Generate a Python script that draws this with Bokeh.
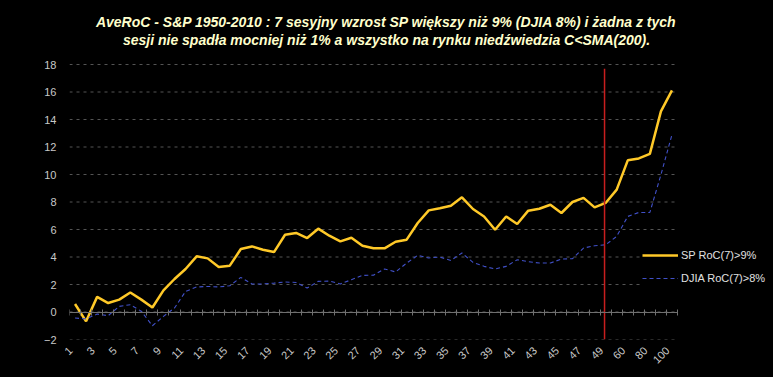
import math
import numpy as np
from bokeh.plotting import figure
from bokeh.models import (Range1d, LinearAxis, FixedTicker, Label, Legend,
                          LegendItem, ColumnDataSource)
from bokeh.embed import file_html
from bokeh.resources import INLINE

# ---- data ----
categories = [str(i) for i in range(1, 51)] + ["60", "70", "80", "90", "100"]
sp_roc = [0.58, -0.68, 1.1, 0.65, 0.9, 1.42, 0.9, 0.33, 1.57, 2.4,
          3.13, 4.05, 3.9, 3.27, 3.37, 4.58, 4.77, 4.53, 4.36, 5.62,
          5.75, 5.38, 6.06, 5.55, 5.14, 5.4, 4.82, 4.63, 4.63, 5.11,
          5.26, 6.47, 7.39, 7.54, 7.73, 8.34, 7.49, 6.95, 5.98, 6.95,
          6.4, 7.37, 7.51, 7.8, 7.2, 8.0, 8.3, 7.61, 7.93, 8.9,
          11.03, 11.17, 11.5, 14.59, 16.12]
djia_roc = [-0.44, -0.5, -0.15, -0.27, 0.41, 0.53, 0.05, -1.0, -0.32, 0.29,
            1.5, 1.82, 1.86, 1.82, 1.91, 2.52, 2.04, 2.04, 2.1, 2.18,
            2.15, 1.74, 2.23, 2.25, 2.04, 2.35, 2.66, 2.68, 3.13, 2.91,
            3.56, 4.12, 3.93, 4.0, 3.75, 4.29, 3.61, 3.32, 3.13, 3.32,
            3.8, 3.66, 3.56, 3.56, 3.85, 3.88, 4.65, 4.82, 4.89, 5.5,
            6.95, 7.24, 7.24, 9.98, 12.9]
y_ticks = [-2, 0, 2, 4, 6, 8, 10, 12, 14, 16, 18]
bear_marker = "49"
title_lines = ["AveRoC - S&P 1950-2010 : 7 sesyjny wzrost SP większy niż 9% (DJIA 8%) i żadna z tych",
               "sesji nie spadła mocniej niż 1% a wszystko na rynku niedźwiedzia C<SMA(200)."]
series_names = ["SP RoC(7)>9%", "DJIA RoC(7)>8%"]

n = len(categories)
xs = np.arange(n) + 0.5
src = ColumnDataSource(dict(x=xs, sp=sp_roc, dj=djia_roc))

# layout: category area is 608 px wide inside a 704 px frame; value area 275 px inside 339 px frame
x_end = n * 704 / 608
y_end = y_ticks[0] + (y_ticks[-1] - y_ticks[0]) * 339 / 275

p = figure(width=773, height=377, output_backend="svg", toolbar_location=None,
           x_range=Range1d(0, x_end), y_range=Range1d(y_ticks[0], y_end),
           x_axis_type=None, y_axis_type=None,
           min_border_left=69, min_border_right=0, min_border_top=0, min_border_bottom=38)
p.background_fill_color = "black"
p.border_fill_color = "black"
p.outline_line_color = None
p.styles = {"background-color": "black"}

# y axis (labels only)
yax = LinearAxis(ticker=FixedTicker(ticks=y_ticks))
yax.axis_line_color = None
yax.major_tick_line_color = None
yax.minor_tick_line_color = None
yax.major_label_text_color = "#C8C8C8"
yax.major_label_text_font = "Liberation Sans"
yax.major_label_text_font_size = "11px"
yax.major_label_standoff = 7
p.add_layout(yax, "left")

# horizontal dashed grid lines across the category area
p.segment(x0=[0] * len(y_ticks), x1=[n] * len(y_ticks), y0=y_ticks, y1=y_ticks,
          line_color="#545454", line_width=1, line_dash="3 4")

# bottom category labels (every second category)
lab_idx = list(range(0, n, 2))
lab_ticks = [i + 0.1 for i in lab_idx]
xax = LinearAxis(ticker=FixedTicker(ticks=lab_ticks))
xax.major_label_overrides = {i + 0.1: categories[i] for i in lab_idx}
xax.axis_line_color = None
xax.major_tick_line_color = None
xax.minor_tick_line_color = None
xax.major_tick_in = 0
xax.major_tick_out = 0
xax.major_label_orientation = math.pi / 4
xax.major_label_text_color = "#C8C8C8"
xax.major_label_text_font = "Liberation Sans"
xax.major_label_text_font_size = "11px"
xax.major_label_standoff = 9
p.add_layout(xax, "below")

# zero line with tick marks between categories
zax = LinearAxis(ticker=FixedTicker(ticks=list(range(n + 1))), fixed_location=0, bounds=(0, n))
zax.axis_line_color = "#707070"
zax.major_tick_line_color = "#707070"
zax.major_tick_in = 3
zax.major_tick_out = 3
zax.minor_tick_line_color = None
zax.major_label_text_font_size = "0px"
zax.major_label_text_alpha = 0
zax.major_label_standoff = 0
p.add_layout(zax, "below")

r_sp = p.line("x", "sp", source=src, line_color="#FFC928", line_width=2.5)
r_dj = p.line("x", "dj", source=src, line_color="#4050C8", line_width=1.1, line_dash="4 3")

# bear market marker
bx = categories.index(bear_marker) + 0.4
p.segment(x0=[bx], x1=[bx], y0=[y_ticks[0]], y1=[y_ticks[-1] - 0.3],
          line_color="#C81E1E", line_width=1.5)

legend = Legend(items=[LegendItem(label=series_names[0], renderers=[r_sp]),
                       LegendItem(label=series_names[1], renderers=[r_dj])],
                location=(573, 52))
legend.background_fill_color = "black"
legend.background_fill_alpha = 1
legend.border_line_color = None
legend.label_text_color = "#E0E0E0"
legend.label_text_font = "Liberation Sans"
legend.label_text_font_size = "11px"
legend.glyph_width = 36
legend.glyph_height = 18
legend.label_height = 18
legend.spacing = 5
legend.padding = 5
legend.margin = 0
legend.label_standoff = 3
p.add_layout(legend, "center")

for k, t in enumerate(title_lines):
    p.add_layout(Label(x=317, y=318 - 18 * k, x_units="screen", y_units="screen", text=t,
                       text_align="center", text_baseline="middle",
                       text_font="Liberation Sans", text_font_style="bold italic",
                       text_font_size="14px", text_color="#FFFFCC"))

open("out.html", "w").write(file_html(p, INLINE))
